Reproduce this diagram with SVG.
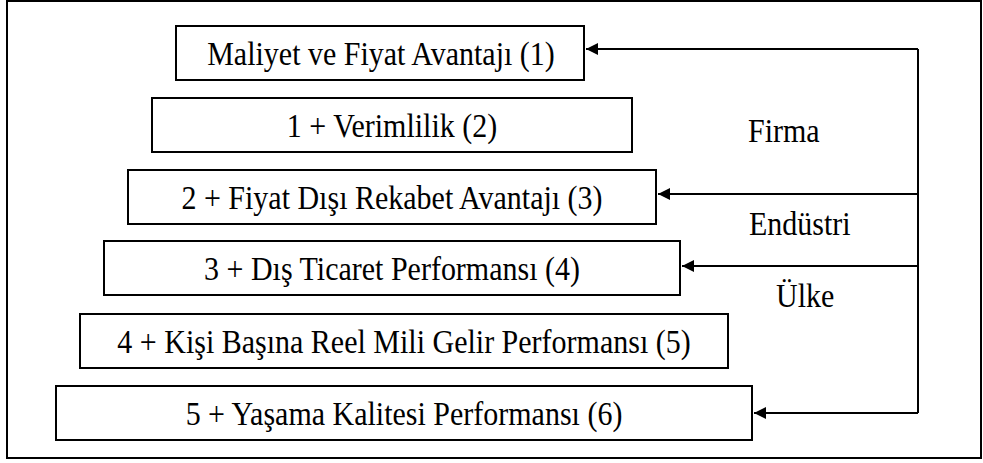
<svg xmlns="http://www.w3.org/2000/svg" width="983" height="463" viewBox="0 0 983 463">
  <defs>
    <marker id="arrow" viewBox="0 0 12 12" refX="12" refY="6" markerWidth="12" markerHeight="12" markerUnits="userSpaceOnUse" orient="auto">
      <path d="M0,0 L12,6 L0,12 Z" fill="#000"/>
    </marker>
  </defs>
  <style>
    .frame { fill: #fff; stroke: #000; stroke-width: 2; }
    .box { fill: #fff; stroke: #000; stroke-width: 2; }
    text { font-family: 'Liberation Serif', 'Times New Roman', 'DejaVu Serif', serif; font-size: 30px; fill: #000; }
    .mid { text-anchor: middle; }
    .wire { fill: none; stroke: #000; stroke-width: 2; }
  </style>
  <rect class="frame" x="7" y="1" width="974" height="457"/>

  <!-- text is drawn slightly tall (scaleY 1.12), positions given by translate -->
  <g id="node1">
    <rect class="box" x="176" y="26" width="408" height="54"/>
    <text class="mid" transform="translate(381,65) scale(1,1.12)">Maliyet ve Fiyat Avantajı (1)</text>
  </g>
  <g id="node2">
    <rect class="box" x="152" y="98" width="480" height="54"/>
    <text class="mid" transform="translate(392,137) scale(1,1.12)">1 + Verimlilik (2)</text>
  </g>
  <g id="node3">
    <rect class="box" x="128" y="170" width="528" height="54"/>
    <text class="mid" transform="translate(392,209) scale(1,1.12)">2 + Fiyat Dışı Rekabet Avantajı (3)</text>
  </g>
  <g id="node4">
    <rect class="box" x="104" y="241" width="576" height="54"/>
    <text class="mid" transform="translate(392,280) scale(1,1.12)">3 + Dış Ticaret Performansı (4)</text>
  </g>
  <g id="node5">
    <rect class="box" x="80" y="314" width="648" height="54"/>
    <text class="mid" transform="translate(404,353) scale(1,1.12)">4 + Kişi Başına Reel Mili Gelir Performansı (5)</text>
  </g>
  <g id="node6">
    <rect class="box" x="56" y="386" width="696" height="54"/>
    <text class="mid" transform="translate(404,425) scale(1,1.12)">5 + Yaşama Kalitesi Performansı (6)</text>
  </g>

  <g id="levels">
    <text transform="translate(748,142) scale(1,1.12)">Firma</text>
    <text transform="translate(749,235) scale(1,1.12)">Endüstri</text>
    <text transform="translate(776,307) scale(1,1.12)">Ülke</text>
  </g>

  <g id="connectors">
    <polyline class="wire" points="918,49 918,413"/>
    <line class="wire" x1="918" y1="49" x2="586" y2="49" marker-end="url(#arrow)"/>
    <line class="wire" x1="918" y1="194" x2="658" y2="194" marker-end="url(#arrow)"/>
    <line class="wire" x1="918" y1="266" x2="682" y2="266" marker-end="url(#arrow)"/>
    <line class="wire" x1="918" y1="413" x2="754" y2="413" marker-end="url(#arrow)"/>
  </g>
</svg>
